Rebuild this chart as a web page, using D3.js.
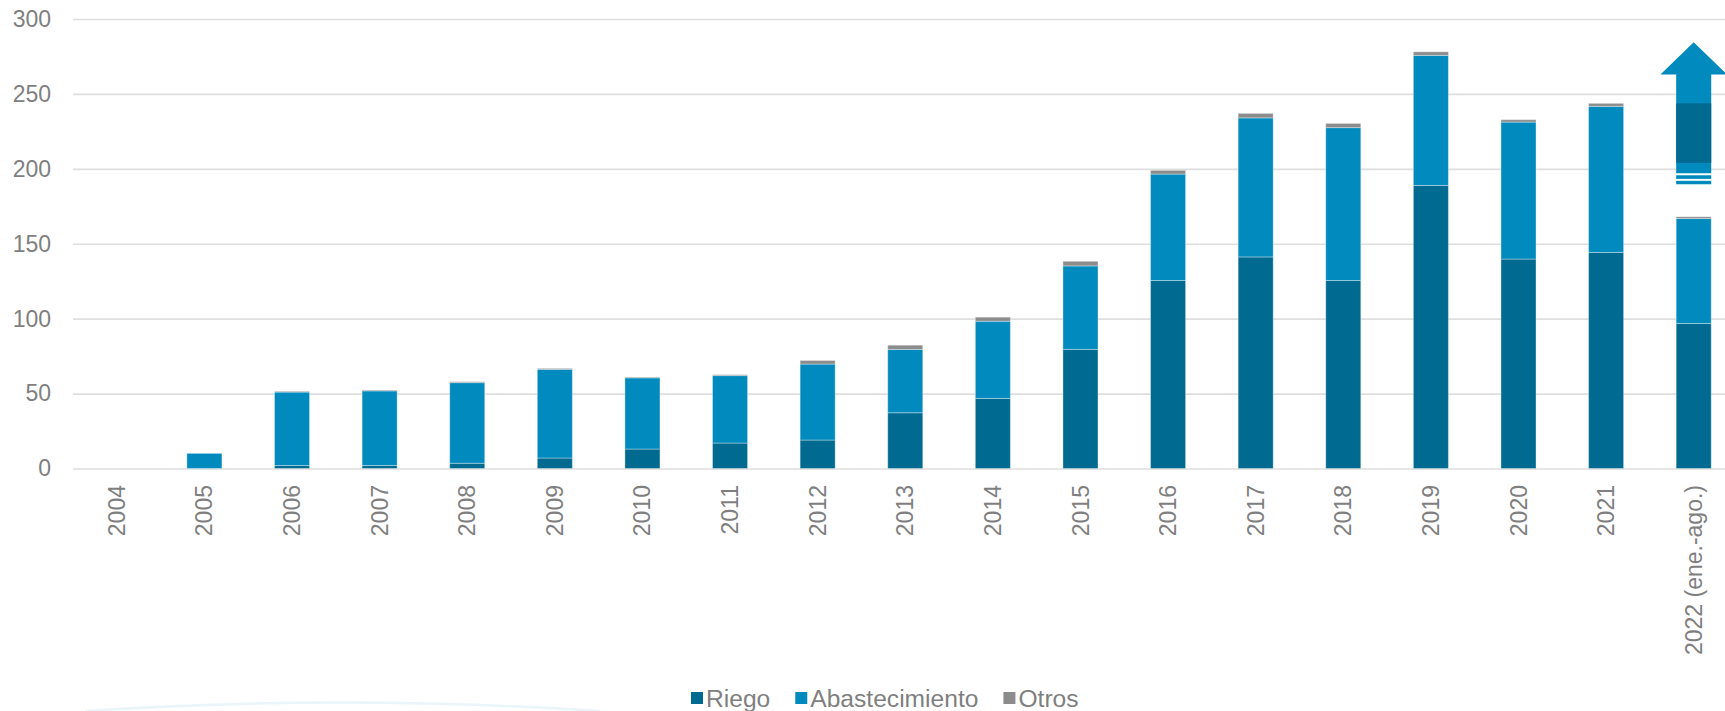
<!DOCTYPE html>
<html lang="es">
<head>
    <meta charset="UTF-8">
    <title>Riego, Abastecimiento, Otros</title>
    <script src="https://d3js.org/d3.v7.min.js"></script>
    <style>
        body { margin: 0; background: #fff; }
        text { font-family: "Liberation Sans", Arial, sans-serif; fill: #7f7f7f; }
    </style>
</head>
<body>
    <div id="chart"></div>

    <script>
        // data
        const years = ["2004", "2005", "2006", "2007", "2008", "2009", "2010", "2011", "2012", "2013",
                       "2014", "2015", "2016", "2017", "2018", "2019", "2020", "2021", "2022 (ene.-ago.)"];
        const riego = [0, 0, 2, 2, 3.5, 7, 13, 17, 19, 37.2, 46.8, 79.5, 125.5, 141.2, 125.5, 188.9, 139.8, 144.2, 96.8];
        const abastecimiento = [0, 10.1, 49, 49.8, 53.8, 59.2, 47.5, 45, 50.7, 42.3, 51.5, 55.7, 71, 92.8, 102, 86.8, 91.4, 97.5, 70];
        const otros = [0, 0, 0.5, 0.5, 0.6, 0.6, 0.5, 0.6, 2.4, 2.8, 2.7, 3.1, 2.5, 3, 2.8, 2.4, 1.6, 2, 1.2];
        const yTicks = [0, 50, 100, 150, 200, 250, 300];
        const seriesNames = ["Riego", "Abastecimiento", "Otros"];
        const colors = ["#006a91", "#008abe", "#8c8c8c"];

        // arrow drawn above the last bar (value levels)
        const arrowLevels = { tip: 284.5, headBase: 263, darkTop: 243.7, darkBottom: 204, lightBottom: 197 };
        const arrowStripes = [[195.7, 193.3], [192, 189.7]];

        const width = 1725, height = 711;

        const svg = d3.select("#chart")
          .append("svg")
            .attr("width", width)
            .attr("height", height);

        const x = d3.scaleBand()
          .domain(years)
          .range([73, 1737.5])
          .paddingInner(0.6)
          .paddingOuter(0.3);

        const y = d3.scaleLinear()
          .domain([0, 300])
          .range([468.5, 19]);

        // gridlines + y labels
        const yAxis = svg.append("g")
          .attr("transform", "translate(73,0)")
          .call(d3.axisLeft(y).tickValues(yTicks).tickSize(-1700).tickPadding(22));
        yAxis.select(".domain").remove();
        yAxis.selectAll(".tick line").attr("stroke", "#dedede").attr("stroke-width", 1.6);
        yAxis.selectAll(".tick text")
          .style("font-size", "23px")
          .attr("fill", "#7f7f7f");

        // stacked bars
        const table = years.map((yr, i) => ({ year: yr, Riego: riego[i], Abastecimiento: abastecimiento[i], Otros: otros[i] }));
        const stack = d3.stack().keys(seriesNames)(table);

        svg.append("g")
          .selectAll("g")
          .data(stack)
          .join("g")
            .attr("fill", (d, i) => colors[i])
          .selectAll("rect")
          .data(d => d.filter(p => p[1] - p[0] > 0))
          .join("rect")
            .attr("x", d => x(d.data.year))
            .attr("y", d => y(d[1]))
            .attr("width", x.bandwidth())
            .attr("height", d => y(d[0]) - y(d[1]))
            .attr("stroke", "rgba(255,255,255,0.35)")
            .attr("stroke-width", 1);

        // arrow above 2022
        const last = years[years.length - 1];
        const bx = x(last), bw = x.bandwidth(), cx = bx + bw / 2;
        const headHalf = bw * 0.95;
        svg.append("path")
          .attr("d", `M${cx},${y(arrowLevels.tip)} L${cx + headHalf},${y(arrowLevels.headBase)} L${bx + bw},${y(arrowLevels.headBase)}
                      L${bx + bw},${y(arrowLevels.lightBottom)} L${bx},${y(arrowLevels.lightBottom)} L${bx},${y(arrowLevels.headBase)}
                      L${cx - headHalf},${y(arrowLevels.headBase)} Z`)
          .attr("fill", colors[1]);
        svg.append("rect")
          .attr("x", bx).attr("width", bw)
          .attr("y", y(arrowLevels.darkTop))
          .attr("height", y(arrowLevels.darkBottom) - y(arrowLevels.darkTop))
          .attr("fill", colors[0]);
        svg.selectAll(".stripe")
          .data(arrowStripes)
          .join("rect")
            .attr("class", "stripe")
            .attr("x", bx).attr("width", bw)
            .attr("y", d => y(d[0]))
            .attr("height", d => y(d[1]) - y(d[0]))
            .attr("fill", colors[1]);

        // x labels, rotated
        svg.append("g")
          .selectAll("text")
          .data(years)
          .join("text")
            .attr("transform", d => `translate(${x(d) + bw / 2},485) rotate(-90)`)
            .attr("text-anchor", "end")
            .attr("dy", "0.35em")
            .style("font-size", "23px")
            .text(d => d);

        // faint decorative arc at bottom left
        svg.append("path")
          .attr("d", "M85,711 Q340,694 600,711")
          .attr("fill", "none")
          .attr("stroke", "#e4f3f8")
          .attr("stroke-width", 2.5)
          .attr("opacity", 0.8);

        // legend
        const legend = svg.append("g");
        let lx = 691;
        seriesNames.forEach((name, i) => {
            legend.append("rect")
              .attr("x", lx).attr("y", 692)
              .attr("width", 12).attr("height", 12)
              .attr("fill", colors[i]);
            const t = legend.append("text")
              .attr("x", lx + 15).attr("y", 706.5)
              .style("font-size", "24.6px")
              .text(name);
            lx += 15 + t.node().getComputedTextLength() + 25;
        });
    </script>
</body>
</html>
